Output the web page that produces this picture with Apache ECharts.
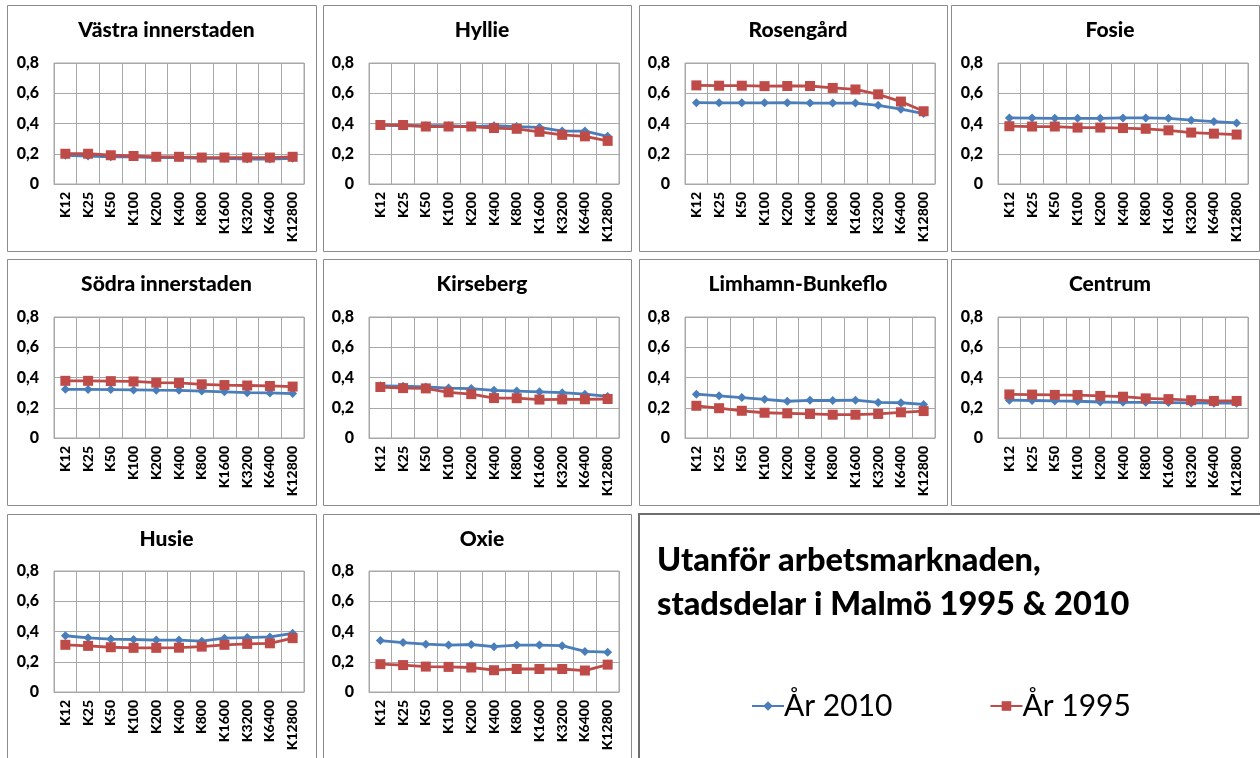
<!DOCTYPE html>
<html>
<head>
<meta charset="utf-8">
<script src="https://cdn.jsdelivr.net/npm/echarts@6/dist/echarts.min.js"></script>
<style>
  html, body { margin: 0; padding: 0; background: #ffffff; }
  #chart { width: 1260px; height: 758px; }
</style>
</head>
<body>
<div id="chart"></div>
<script>
// Distance classes (k nearest neighbours)
const categories = ['K12', 'K25', 'K50', 'K100', 'K200', 'K400', 'K800', 'K1600', 'K3200', 'K6400', 'K12800'];
const yTicks = [0, 0.2, 0.4, 0.6, 0.8];

// Share outside the labour market, per district, 2010 and 1995
const vastraInnerstaden2010 = [0.19, 0.185, 0.18, 0.18, 0.175, 0.175, 0.17, 0.17, 0.165, 0.165, 0.17];
const vastraInnerstaden1995 = [0.20, 0.20, 0.19, 0.185, 0.18, 0.18, 0.175, 0.175, 0.175, 0.175, 0.18];
const hyllie2010 = [0.39, 0.385, 0.385, 0.385, 0.38, 0.385, 0.38, 0.375, 0.35, 0.35, 0.315];
const hyllie1995 = [0.39, 0.39, 0.38, 0.38, 0.38, 0.37, 0.365, 0.345, 0.325, 0.315, 0.285];
const rosengard2010 = [0.538, 0.537, 0.537, 0.537, 0.538, 0.535, 0.535, 0.535, 0.52, 0.495, 0.466];
const rosengard1995 = [0.652, 0.65, 0.65, 0.647, 0.648, 0.648, 0.635, 0.625, 0.593, 0.545, 0.481];
const fosie2010 = [0.437, 0.436, 0.434, 0.434, 0.434, 0.437, 0.437, 0.434, 0.422, 0.413, 0.404];
const fosie1995 = [0.382, 0.38, 0.38, 0.373, 0.373, 0.37, 0.365, 0.355, 0.34, 0.333, 0.327];
const sodraInnerstaden2010 = [0.322, 0.321, 0.32, 0.318, 0.316, 0.315, 0.31, 0.305, 0.3, 0.298, 0.294];
const sodraInnerstaden1995 = [0.378, 0.378, 0.376, 0.374, 0.366, 0.364, 0.355, 0.35, 0.347, 0.344, 0.34];
const kirseberg2010 = [0.345, 0.342, 0.338, 0.33, 0.327, 0.315, 0.31, 0.305, 0.30, 0.29, 0.275];
const kirseberg1995 = [0.337, 0.33, 0.328, 0.302, 0.29, 0.264, 0.263, 0.254, 0.255, 0.256, 0.258];
const limhamnBunkeflo2010 = [0.29, 0.279, 0.267, 0.256, 0.243, 0.249, 0.248, 0.25, 0.235, 0.233, 0.222];
const limhamnBunkeflo1995 = [0.213, 0.197, 0.18, 0.167, 0.163, 0.159, 0.154, 0.154, 0.159, 0.17, 0.178];
const centrum2010 = [0.25, 0.248, 0.245, 0.243, 0.238, 0.236, 0.236, 0.234, 0.232, 0.23, 0.23];
const centrum1995 = [0.288, 0.287, 0.285, 0.284, 0.278, 0.273, 0.262, 0.257, 0.25, 0.245, 0.245];
const husie2010 = [0.372, 0.358, 0.35, 0.347, 0.343, 0.343, 0.336, 0.356, 0.36, 0.364, 0.388];
const husie1995 = [0.312, 0.305, 0.296, 0.292, 0.292, 0.293, 0.3, 0.312, 0.318, 0.322, 0.356];
const oxie2010 = [0.34, 0.327, 0.316, 0.31, 0.314, 0.3, 0.31, 0.31, 0.306, 0.268, 0.263];
const oxie1995 = [0.184, 0.178, 0.168, 0.166, 0.162, 0.144, 0.152, 0.152, 0.152, 0.142, 0.181];

const panels = [
  { name: 'Västra innerstaden', y2010: vastraInnerstaden2010, y1995: vastraInnerstaden1995 },
  { name: 'Hyllie', y2010: hyllie2010, y1995: hyllie1995 },
  { name: 'Rosengård', y2010: rosengard2010, y1995: rosengard1995 },
  { name: 'Fosie', y2010: fosie2010, y1995: fosie1995 },
  { name: 'Södra innerstaden', y2010: sodraInnerstaden2010, y1995: sodraInnerstaden1995 },
  { name: 'Kirseberg', y2010: kirseberg2010, y1995: kirseberg1995 },
  { name: 'Limhamn-Bunkeflo', y2010: limhamnBunkeflo2010, y1995: limhamnBunkeflo1995 },
  { name: 'Centrum', y2010: centrum2010, y1995: centrum1995 },
  { name: 'Husie', y2010: husie2010, y1995: husie1995 },
  { name: 'Oxie', y2010: oxie2010, y1995: oxie1995 }
];

const mainTitle = 'Utanför arbetsmarknaden,\nstadsdelar i Malmö 1995 & 2010';
const seriesNames = ['År 2010', 'År 1995'];
const colors = ['#4A7EBB', '#BE4B48'];

// Layout of the small-multiple panels
const FONT = 'Lato, "Liberation Sans", sans-serif';
const boxLeft = [7, 323, 639, 951];
const boxWidth = [309, 308, 308, 308];
const boxTop = [5, 259, 514];
const boxHeight = [246, 246, 260];
const plotLeft = [54, 369, 685, 998];
const plotTop = [63, 317, 571];
const plotW = 250, plotH = 121;

const grids = [], xAxes = [], yAxes = [], series = [], titles = [], graphics = [];

panels.forEach((p, i) => {
  const col = i % 4, row = Math.floor(i / 4);
  graphics.push({
    type: 'rect', z: -1,
    shape: { x: boxLeft[col] + 0.5, y: boxTop[row] + 0.5, width: boxWidth[col], height: boxHeight[row] },
    style: { fill: '#ffffff', stroke: '#8c8c8c', lineWidth: 1 }
  });
  titles.push({
    text: p.name,
    left: boxLeft[col] + boxWidth[col] / 2,
    top: boxTop[row] + 10,
    textAlign: 'center',
    textStyle: { fontFamily: FONT, fontWeight: 900, fontSize: 21, color: '#000' }
  });
  grids.push({
    left: plotLeft[col], top: plotTop[row], width: plotW, height: plotH,
    show: true, borderColor: '#a8a8a8', borderWidth: 1, backgroundColor: 'transparent'
  });
  xAxes.push({
    type: 'category', gridIndex: i, data: categories, boundaryGap: true,
    axisLine: { show: true, lineStyle: { color: '#a8a8a8' } },
    axisTick: { show: false },
    splitLine: { show: true, interval: 0, lineStyle: { color: '#a8a8a8', width: 1 } },
    axisLabel: {
      interval: 0, rotate: 90, margin: 8,
      fontFamily: FONT, fontWeight: 900, fontSize: 14, color: '#000'
    }
  });
  yAxes.push({
    type: 'value', gridIndex: i, min: 0, max: 0.8, interval: 0.2,
    axisLine: { show: false }, axisTick: { show: false },
    splitLine: { show: true, lineStyle: { color: '#a8a8a8', width: 1 } },
    axisLabel: {
      margin: 15, fontFamily: FONT, fontWeight: 900, fontSize: 16, color: '#000',
      formatter: v => (v === 0 ? '0' : v.toFixed(1).replace('.', ','))
    }
  });
  series.push({
    name: seriesNames[0], type: 'line', xAxisIndex: i, yAxisIndex: i, data: p.y2010,
    symbol: 'diamond', symbolSize: 9, showAllSymbol: true,
    lineStyle: { color: colors[0], width: 2.8 },
    itemStyle: { color: colors[0] }, z: 3
  });
  series.push({
    name: seriesNames[1], type: 'line', xAxisIndex: i, yAxisIndex: i, data: p.y1995,
    symbol: 'rect', symbolSize: 10, showAllSymbol: true,
    lineStyle: { color: colors[1], width: 2.8 },
    itemStyle: { color: colors[1] }, z: 4
  });
});

// Title box in the last free slot
graphics.push({
  type: 'rect', z: -1,
  shape: { x: 639, y: 514, width: 640, height: 260 },
  style: { fill: '#ffffff', stroke: '#6e6e6e', lineWidth: 2 }
});
titles.push({
  text: mainTitle,
  left: 652, top: 534,
  textStyle: { fontFamily: FONT, fontWeight: 900, fontSize: 32.5, lineHeight: 44, color: '#000' }
});

const chart = echarts.init(document.getElementById('chart'), null, { renderer: 'canvas' });
chart.setOption({
  animation: false,
  backgroundColor: '#ffffff',
  title: titles,
  graphic: graphics,
  grid: grids,
  xAxis: xAxes,
  yAxis: yAxes,
  series: series,
  legend: {
    data: seriesNames,
    left: 746, top: 686,
    itemWidth: 32, itemHeight: 12, itemGap: 97,
    textStyle: { fontFamily: FONT, fontSize: 30, color: '#000', padding: [0, 0, 0, -5] }
  },
  tooltip: { show: false }
});
</script>
</body>
</html>
